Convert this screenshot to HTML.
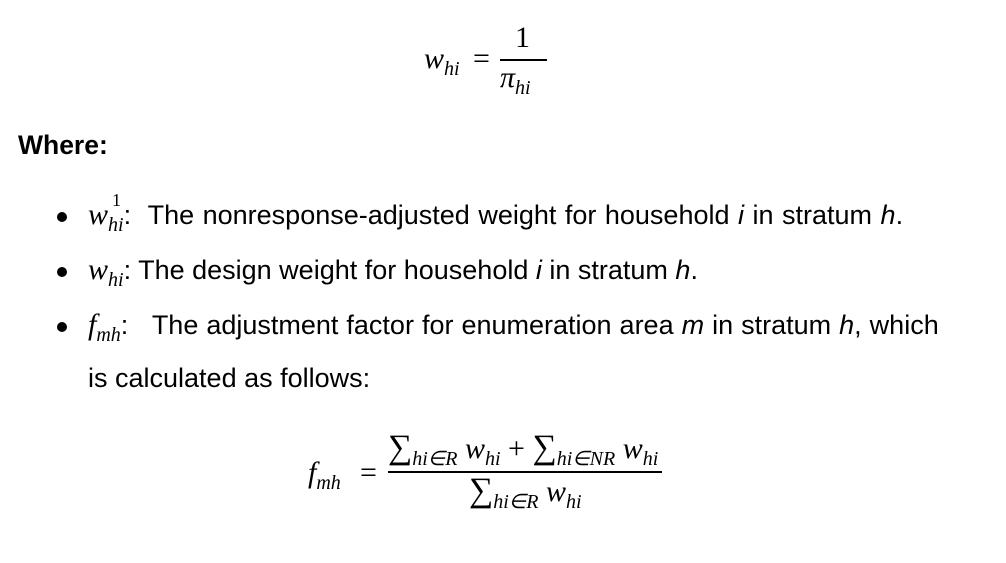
<!DOCTYPE html>
<html><head><meta charset="utf-8"><style>
body{margin:0;width:1006px;height:563px;background:#fff;position:relative;overflow:hidden;font-family:"Liberation Sans",sans-serif;color:#000}
.a{position:absolute;white-space:nowrap;line-height:1}
.m{font-family:"Liberation Serif",serif;font-style:italic}
sub{font-size:20px;vertical-align:-7px}
.bar{position:absolute;height:2px;background:#000}
.dot{position:absolute;width:10px;height:10px;border-radius:50%;background:#000}
.t{font-size:27px}
.S{font-style:normal;font-size:34px}
</style></head><body>
<!-- top formula -->
<div class="a m" style="left:424px;top:44px;font-size:30px">w<sub>hi</sub></div>
<div class="a" style="left:473px;top:44px;font-size:30px;font-family:'Liberation Serif',serif">=</div>
<div class="a" style="left:515px;top:23px;font-size:30px;font-family:'Liberation Serif',serif">1</div>
<div class="bar" style="left:500px;top:59px;width:47px"></div>
<div class="a m" style="left:500px;top:63px;font-size:30px">π<sub>hi</sub></div>

<div class="a" style="left:18px;top:132px;font-size:26.5px;font-weight:bold">Where:</div>

<div class="dot" style="left:57px;top:212px"></div>
<div class="a t" style="left:88px;top:200px;word-spacing:1px"><span class="m" style="font-size:30px">w<sub>hi</sub></span><span class="m" style="position:absolute;left:24px;top:-9px;font-size:18px;font-style:normal">1</span>:&nbsp; The nonresponse-adjusted weight for household <i>i</i> in stratum <i>h</i>.</div>

<div class="dot" style="left:57px;top:267px"></div>
<div class="a t" style="left:88px;top:255px"><span class="m" style="font-size:30px">w<sub>hi</sub></span>: The design weight for household <i>i</i> in stratum <i>h</i>.</div>

<div class="dot" style="left:57px;top:322px"></div>
<div class="a t" style="left:88px;top:310px;word-spacing:0.5px"><span class="m" style="font-size:30px">f<sub>mh</sub></span>:&nbsp;&nbsp; The adjustment factor for enumeration area <i>m</i> in stratum <i>h</i>, which</div>
<div class="a t" style="left:88px;top:365px">is calculated as follows:</div>

<!-- bottom formula -->
<div class="a m" style="left:308px;top:458px;font-size:30px">f<sub>mh</sub></div>
<div class="a" style="left:360px;top:458px;font-size:30px;font-family:'Liberation Serif',serif">=</div>
<div class="a m" style="left:388px;top:431px;font-size:30px"><span class="S">∑</span><sub>hi∈R</sub> w<sub>hi</sub> <span style="font-style:normal">+</span> <span class="S">∑</span><sub>hi∈NR</sub> w<sub>hi</sub></div>
<div class="bar" style="left:388px;top:471px;width:274px"></div>
<div class="a m" style="left:469px;top:474px;font-size:30px"><span class="S">∑</span><sub>hi∈R</sub> w<sub>hi</sub></div>
</body></html>
